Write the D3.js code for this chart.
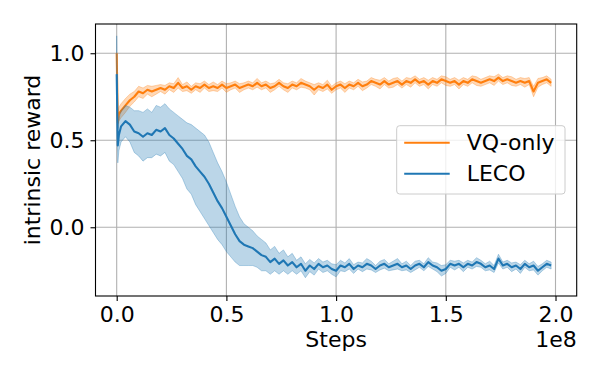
<!DOCTYPE html>
<html lang="en">
  <head>
    <meta charset="utf-8" />
    <script src="https://d3js.org/d3.v7.min.js"></script>
    <style>
      body { margin: 0; background: #fff; }
      text { font-family: "DejaVu Sans", sans-serif; fill: #000; }
    </style>
    <title>intrinsic reward</title>
  </head>
  <body>
    <div id="my_dataviz"></div>
    <script>
      // steps in units of 1e8: a few early samples, then every 2e6
      var steps = [0, 0.005, 0.01].concat(d3.range(1, 100).map(function (i) { return i * 0.02; }));

      var vqMean = [1.0, 0.6, 0.65,
        0.67, 0.70, 0.73, 0.75, 0.78, 0.77, 0.79, 0.78, 0.79, 0.80,
        0.79, 0.81, 0.80, 0.83, 0.80, 0.81, 0.79, 0.81, 0.80, 0.82,
        0.80, 0.81, 0.80, 0.82, 0.80, 0.81, 0.82, 0.80, 0.81, 0.82,
        0.81, 0.83, 0.81, 0.82, 0.80, 0.81, 0.83, 0.81, 0.80, 0.82,
        0.81, 0.83, 0.82, 0.81, 0.79, 0.81, 0.80, 0.82, 0.79, 0.81,
        0.82, 0.80, 0.82, 0.81, 0.83, 0.81, 0.82, 0.84, 0.83, 0.82,
        0.84, 0.82, 0.83, 0.84, 0.82, 0.84, 0.83, 0.85, 0.83, 0.84,
        0.82, 0.84, 0.83, 0.85, 0.84, 0.83, 0.84, 0.82, 0.84, 0.83,
        0.85, 0.84, 0.83, 0.84, 0.85, 0.84, 0.86, 0.84, 0.85, 0.84,
        0.83, 0.84, 0.83, 0.84, 0.78, 0.83, 0.84, 0.85, 0.83];
      var vqSpread = [0.005, 0.04, 0.04,
        0.04, 0.04, 0.035, 0.03, 0.03, 0.03, 0.025, 0.03, 0.025, 0.02,
        0.025, 0.02, 0.025, 0.03, 0.02, 0.025, 0.02, 0.02, 0.025, 0.02,
        0.02, 0.025, 0.02, 0.02, 0.025, 0.02, 0.02, 0.025, 0.02, 0.02,
        0.02, 0.025, 0.02, 0.02, 0.025, 0.02, 0.02, 0.02, 0.025, 0.02,
        0.02, 0.025, 0.02, 0.02, 0.03, 0.02, 0.02, 0.025, 0.02, 0.02,
        0.02, 0.025, 0.02, 0.02, 0.02, 0.025, 0.02, 0.02, 0.02, 0.025,
        0.02, 0.02, 0.025, 0.02, 0.02, 0.02, 0.025, 0.02, 0.02, 0.02,
        0.025, 0.02, 0.02, 0.02, 0.025, 0.02, 0.02, 0.025, 0.02, 0.02,
        0.02, 0.025, 0.02, 0.02, 0.02, 0.025, 0.02, 0.02, 0.02, 0.025,
        0.02, 0.02, 0.025, 0.02, 0.03, 0.025, 0.02, 0.02, 0.02];

      var lecoMean = [0.88, 0.47, 0.53,
        0.58, 0.61, 0.59, 0.55, 0.54, 0.52, 0.54, 0.53, 0.56, 0.55,
        0.57, 0.53, 0.51, 0.48, 0.45, 0.41, 0.39, 0.35, 0.32, 0.29,
        0.25, 0.20, 0.15, 0.11, 0.06, 0.01, -0.04, -0.08, -0.10, -0.11,
        -0.12, -0.14, -0.16, -0.17, -0.20, -0.18, -0.21, -0.19, -0.22, -0.20,
        -0.23, -0.21, -0.25, -0.22, -0.24, -0.21, -0.23, -0.22, -0.24, -0.25,
        -0.22, -0.23, -0.21, -0.24, -0.22, -0.23, -0.21, -0.22, -0.24, -0.22,
        -0.21, -0.23, -0.22, -0.21, -0.23, -0.22, -0.24, -0.22, -0.21, -0.23,
        -0.20, -0.22, -0.23, -0.25, -0.24, -0.21, -0.22, -0.21, -0.23, -0.21,
        -0.22, -0.20, -0.21, -0.23, -0.22, -0.24, -0.18, -0.22, -0.21, -0.23,
        -0.22, -0.24, -0.21, -0.23, -0.22, -0.25, -0.23, -0.21, -0.22];
      var lecoSpread = [0.22, 0.1, 0.09,
        0.09, 0.09, 0.10, 0.12, 0.13, 0.14, 0.14, 0.13, 0.14, 0.14,
        0.14, 0.15, 0.15, 0.16, 0.17, 0.19, 0.20, 0.22, 0.23, 0.24,
        0.24, 0.23, 0.22, 0.21, 0.20, 0.18, 0.16, 0.14, 0.12, 0.11,
        0.10, 0.09, 0.09, 0.08, 0.07, 0.07, 0.06, 0.06, 0.05, 0.05,
        0.04, 0.04, 0.04, 0.035, 0.035, 0.03, 0.03, 0.03, 0.03, 0.035,
        0.03, 0.025, 0.03, 0.025, 0.02, 0.025, 0.03, 0.025, 0.02, 0.025,
        0.025, 0.02, 0.025, 0.03, 0.02, 0.025, 0.02, 0.025, 0.02, 0.02,
        0.025, 0.02, 0.025, 0.03, 0.025, 0.02, 0.025, 0.02, 0.025, 0.02,
        0.02, 0.025, 0.02, 0.02, 0.025, 0.02, 0.025, 0.02, 0.02, 0.025,
        0.02, 0.025, 0.02, 0.02, 0.025, 0.025, 0.02, 0.02, 0.02];

      var xTicks = [0, 0.5, 1.0, 1.5, 2.0];
      var yTicks = [0, 0.5, 1.0];
      var seriesNames = ["VQ-only", "LECO"];
      var seriesColors = ["#ff7f0e", "#1f77b4"];

      var margin = { top: 24, left: 95.5 },
        width = 481.2,
        height = 272;

      var svg = d3
        .select("#my_dataviz")
        .append("svg")
        .attr("width", 600)
        .attr("height", 375)
        .append("g")
        .attr("transform", "translate(" + margin.left + "," + margin.top + ")");

      var x = d3.scaleLinear().domain([-0.0966, 2.0966]).range([0, width]);
      var y = d3.scaleLinear().domain([-0.395, 1.168]).range([height, 0]);

      // grid
      svg.append("g").selectAll("line").data(xTicks).enter().append("line")
        .attr("x1", function (d) { return x(d); })
        .attr("x2", function (d) { return x(d); })
        .attr("y1", 0).attr("y2", height)
        .attr("stroke", "#b0b0b0").attr("stroke-width", 1.1);
      svg.append("g").selectAll("line").data(yTicks).enter().append("line")
        .attr("y1", function (d) { return y(d); })
        .attr("y2", function (d) { return y(d); })
        .attr("x1", 0).attr("x2", width)
        .attr("stroke", "#b0b0b0").attr("stroke-width", 1.1);

      svg.append("clipPath").attr("id", "clip")
        .append("rect").attr("width", width).attr("height", height);
      var plot = svg.append("g").attr("clip-path", "url(#clip)");

      var series = [
        { mean: vqMean, spread: vqSpread },
        { mean: lecoMean, spread: lecoSpread }
      ];

      series.forEach(function (s, k) {
        var rows = steps.map(function (t, i) {
          return { t: t, m: s.mean[i], lo: s.mean[i] - s.spread[i], hi: s.mean[i] + s.spread[i] };
        });
        var area = d3.area()
          .x(function (d) { return x(d.t); })
          .y0(function (d) { return y(d.lo); })
          .y1(function (d) { return y(d.hi); });
        var line = d3.line()
          .x(function (d) { return x(d.t); })
          .y(function (d) { return y(d.m); });
        plot.append("path").datum(rows)
          .attr("d", area)
          .attr("fill", seriesColors[k])
          .attr("fill-opacity", 0.3)
          .attr("stroke", seriesColors[k])
          .attr("stroke-opacity", 0.3)
          .attr("stroke-width", 1);
        plot.append("path").datum(rows)
          .attr("d", line)
          .attr("fill", "none")
          .attr("stroke", seriesColors[k])
          .attr("stroke-width", 2.1)
          .attr("stroke-linejoin", "round");
      });

      // axes
      var xAxis = svg.append("g")
        .attr("transform", "translate(0," + height + ")")
        .call(d3.axisBottom(x).tickValues(xTicks).tickFormat(d3.format(".1f")).tickSize(5).tickPadding(5));
      var yAxis = svg.append("g")
        .call(d3.axisLeft(y).tickValues(yTicks).tickFormat(d3.format(".1f")).tickSize(5).tickPadding(6));
      [xAxis, yAxis].forEach(function (a) {
        a.select(".domain").remove();
        a.selectAll("line").attr("stroke", "#000").attr("stroke-width", 1.1);
        a.selectAll("text").style("font-size", "22px").style("font-family", "DejaVu Sans");
      });

      svg.append("rect")
        .attr("width", width).attr("height", height)
        .attr("fill", "none").attr("stroke", "#000").attr("stroke-width", 1.1);

      // labels
      svg.append("text")
        .attr("x", width / 2).attr("y", 323)
        .attr("text-anchor", "middle")
        .style("font-size", "22px")
        .text("Steps");
      svg.append("text")
        .attr("x", width).attr("y", 322.5)
        .attr("text-anchor", "end")
        .style("font-size", "22px")
        .text("1e8");
      svg.append("text")
        .attr("transform", "translate(" + (40 - margin.left) + "," + (height / 2) + ") rotate(-90)")
        .attr("text-anchor", "middle")
        .style("font-size", "22px")
        .text("intrinsic reward");

      // legend
      var legendG = svg.append("g").attr("transform", "translate(" + (396.7 - margin.left) + "," + (125.7 - margin.top) + ")");
      legendG.append("rect")
        .attr("width", 168.3).attr("height", 68.3)
        .attr("rx", 3)
        .attr("fill", "#fff").attr("fill-opacity", 0.8)
        .attr("stroke", "#cccccc").attr("stroke-width", 1);
      seriesNames.forEach(function (name, i) {
        var ly = 17 + i * 31;
        legendG.append("line")
          .attr("x1", 7.5).attr("x2", 53)
          .attr("y1", ly).attr("y2", ly)
          .attr("stroke", seriesColors[i]).attr("stroke-width", 2.1);
        legendG.append("text")
          .attr("x", 70).attr("y", ly + 7.5)
          .style("font-size", "22px")
          .text(name);
      });
    </script>
  </body>
</html>
